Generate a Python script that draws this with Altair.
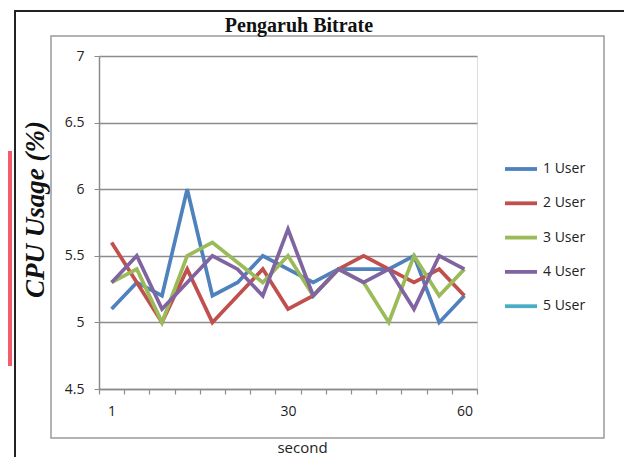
import altair as alt
import pandas as pd

series = ["1 User", "2 User", "3 User", "4 User", "5 User"]
colors = ["#4F81BD", "#C0504D", "#9BBB59", "#8064A2", "#4BACC6"]
categories = list(range(1, 16))
tick_labels = {1: "1", 8: "30", 15: "60"}
y_ticks = [4.5, 5, 5.5, 6, 6.5, 7]
chart_title = "Pengaruh Bitrate"

user1 = [5.1, 5.3, 5.2, 6.0, 5.2, 5.3, 5.5, 5.4, 5.3, 5.4, 5.4, 5.4, 5.5, 5.0, 5.2]
user2 = [5.6, 5.3, 5.0, 5.4, 5.0, 5.2, 5.4, 5.1, 5.2, 5.4, 5.5, 5.4, 5.3, 5.4, 5.2]
user3 = [5.3, 5.4, 5.0, 5.5, 5.6, 5.45, 5.3, 5.5, 5.2, 5.4, 5.3, 5.0, 5.5, 5.2, 5.4]
user4 = [5.3, 5.5, 5.1, 5.3, 5.5, 5.4, 5.2, 5.7, 5.2, 5.4, 5.3, 5.4, 5.1, 5.5, 5.4]
user5 = []  # not visible in the reference

rows = []
for name, vals in zip(series, [user1, user2, user3, user4, user5]):
    for c, v in zip(categories, vals):
        rows.append({"idx": c, "cpu": v, "series": name})
df = pd.DataFrame(rows)

label_expr = " : ".join(
    [f"datum.value == {k} ? '{v}'" for k, v in tick_labels.items()]
) + " : ''"

GRAY = "#8c8c8c"

lines = alt.Chart(df).mark_line(strokeWidth=3.7).encode(
    x=alt.X(
        "idx:O",
        bandPosition=0.5,
        scale=alt.Scale(type="band", paddingInner=0, paddingOuter=0),
        axis=alt.Axis(
            tickBand="extent",
            labelAngle=0,
            labelExpr=label_expr,
            title="second",
            grid=False,
            domainColor=GRAY,
            domainWidth=1.5,
            tickColor=GRAY,
            tickWidth=1.2,
            tickSize=5,
            labelPadding=10,
            labelFont="Open Sans",
            labelFontSize=14,
            labelColor="#222",
            titleFont="Open Sans",
            titleFontSize=15,
            titleFontWeight="normal",
            titleColor="#222",
            titleX=203,
            titleY=51,
            titleBaseline="top",
            titleAnchor="start",
            titleAlign="center",
        ),
    ),
    y=alt.Y(
        "cpu:Q",
        scale=alt.Scale(domain=[4.5, 7], nice=False, zero=False),
        axis=alt.Axis(
            values=y_ticks,
            format="~g",
            grid=True,
            gridColor=GRAY,
            gridWidth=1.5,
            domainColor=GRAY,
            domainWidth=1.5,
            tickColor=GRAY,
            tickSize=5,
            labelPadding=10,
            labelFont="Open Sans",
            labelFontSize=14,
            labelColor="#222",
            title="CPU Usage (%)",
            titleFont="Liberation Serif",
            titleFontSize=27,
            titleFontWeight="bold",
            titleFontStyle="italic",
            titleColor="#111",
            titleX=-64,
            titleY=153,
            titleAngle=270,
            titleAlign="center",
            titleBaseline="middle",
        ),
    ),
    color=alt.Color(
        "series:N",
        scale=alt.Scale(domain=series, range=colors),
        legend=alt.Legend(
            title=None,
            orient="none",
            legendX=404,
            legendY=95,
            padding=0,
            symbolType="stroke",
            symbolSize=1024,
            symbolStrokeWidth=3.8,
            labelFont="Open Sans",
            labelFontSize=14,
            labelColor="#222",
            labelOffset=4,
            rowPadding=8.3,
        ),
    ),
)

deco = alt.Data(values=[{}])
gray_frame = alt.Chart(deco).mark_rect(fill=None, stroke="#9a9a9a", strokeWidth=1.5).encode(
    x=alt.value(-48), x2=alt.value(505), y=alt.value(-20), y2=alt.value(382)
)
black_frame = alt.Chart(deco).mark_rect(fill=None, stroke="#222", strokeWidth=2).encode(
    x=alt.value(-84), x2=alt.value(530), y=alt.value(-45), y2=alt.value(420)
)
red_blur = alt.Chart(deco).mark_rect(fill="#f24a5c", opacity=0.9).encode(
    x=alt.value(-99), x2=alt.value(-87), y=alt.value(95), y2=alt.value(310)
)
title_text = alt.Chart(alt.Data(values=[{"t": chart_title}])).mark_text(
    font="Liberation Serif", fontSize=20, fontWeight="bold", color="#111",
    align="center", baseline="alphabetic",
).encode(text="t:N", x=alt.value(200), y=alt.value(-24))

chart = alt.layer(red_blur, black_frame, gray_frame, title_text, lines).properties(
    width=378,
    height=333,
    autosize=alt.AutoSizeParams(type="none"),
    padding={"left": 91, "top": 48, "right": 147, "bottom": 68},
).configure_view(stroke=None).configure(background="white")

chart.save("out.html", embed_options={"renderer": "svg", "actions": False})
